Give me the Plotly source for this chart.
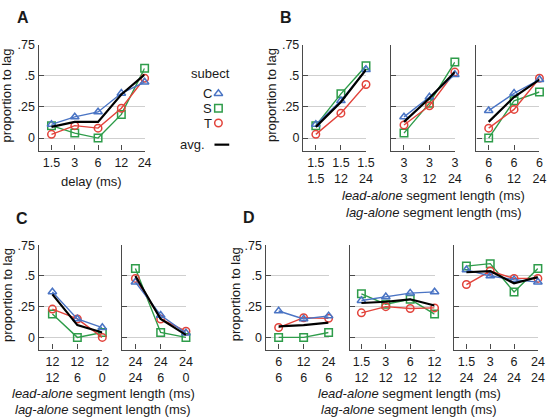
import plotly.graph_objects as go

# ---------------- data ----------------
A_ticks = ["1.5", "3", "6", "12", "24"]
A_C = [0.11, 0.17, 0.21, 0.36, 0.45]
A_S = [0.10, 0.04, 0.00, 0.19, 0.56]
A_T = [0.03, 0.10, 0.08, 0.24, 0.48]
A_avg = [0.09, 0.13, 0.13, 0.35, 0.51]

B1_lead = ["1.5", "1.5", "1.5"]
B1_lag = ["1.5", "12", "24"]
B1_C = [0.11, 0.30, 0.55]
B1_S = [0.10, 0.355, 0.58]
B1_T = [0.03, 0.20, 0.43]
B1_avg = [0.09, 0.29, 0.55]

B2_lead = ["3", "3", "3"]
B2_lag = ["3", "12", "24"]
B2_C = [0.17, 0.33, 0.51]
B2_S = [0.04, 0.28, 0.61]
B2_T = [0.105, 0.26, 0.53]
B2_avg = [0.13, 0.32, 0.53]

B3_lead = ["6", "6", "6"]
B3_lag = ["6", "12", "24"]
B3_C = [0.22, 0.36, 0.47]
B3_S = [0.00, 0.30, 0.37]
B3_T = [0.08, 0.23, 0.48]
B3_avg = [0.13, 0.33, 0.47]

C1_lead = ["12", "12", "12"]
C1_lag = ["12", "6", "0"]
C1_C = [0.37, 0.15, 0.08]
C1_S = [0.19, 0.00, 0.04]
C1_T = [0.23, 0.15, 0.00]
C1_avg = [0.35, 0.10, 0.04]

C2_lead = ["24", "24", "24"]
C2_lag = ["24", "6", "0"]
C2_C = [0.45, 0.18, 0.035]
C2_S = [0.56, 0.04, 0.00]
C2_T = [0.48, 0.15, 0.05]
C2_avg = [0.50, 0.15, 0.02]

D1_lead = ["6", "12", "24"]
D1_lag = ["6", "6", "6"]
D1_C = [0.215, 0.15, 0.175]
D1_S = [0.00, 0.00, 0.04]
D1_T = [0.08, 0.16, 0.155]
D1_avg = [0.09, 0.10, 0.12]

D2_lead = ["1.5", "3", "6", "12"]
D2_lag = ["12", "12", "12", "12"]
D2_C = [0.30, 0.33, 0.36, 0.37]
D2_S = [0.355, 0.27, 0.31, 0.19]
D2_T = [0.20, 0.25, 0.235, 0.24]
D2_avg = [0.28, 0.29, 0.31, 0.26]

D3_lead = ["1.5", "3", "6", "24"]
D3_lag = ["24", "24", "24", "24"]
D3_C = [0.55, 0.50, 0.47, 0.45]
D3_S = [0.58, 0.60, 0.37, 0.56]
D3_T = [0.43, 0.54, 0.48, 0.48]
D3_avg = [0.53, 0.54, 0.44, 0.49]

y_tickvals = [0, 0.25, 0.5, 0.75]
y_ticktext = ["0", ".25", ".5", ".75"]

# ---------------- style ----------------
W, H = 558, 418
FONT = "Liberation Sans, Arial, Helvetica, sans-serif"
C_COL = "#4a74c4"
S_COL = "#2e9c4a"
T_COL = "#e2433b"
AXC = "#4a4a4a"
GRIDC = "#cfcfcf"


def fx(p):
    return p / W


def fy(p):
    return 1 - p / H


def two_line(lead, lag):
    return [f"{a}<br>{b}" for a, b in zip(lead, lag)]


TOP = (38.3, 146.0)
BOT = (242.3, 348.5)

# (ticktext, C, S, T, avg, x-domain px, range start, y-domain px, show y labels)
panels = [
    (A_ticks, A_C, A_S, A_T, A_avg, (39.3, 147.0), -0.55, TOP, True),
    (two_line(B1_lead, B1_lag), B1_C, B1_S, B1_T, B1_avg, (308.0, 372.0), -0.51, TOP, True),
    (two_line(B2_lead, B2_lag), B2_C, B2_S, B2_T, B2_avg, (397.7, 462.3), -0.5, TOP, False),
    (two_line(B3_lead, B3_lag), B3_C, B3_S, B3_T, B3_avg, (484.3, 548.3), -0.48, TOP, False),
    (two_line(C1_lead, C1_lag), C1_C, C1_S, C1_T, C1_avg, (39.3, 104.0), -0.55, BOT, True),
    (two_line(C2_lead, C2_lag), C2_C, C2_S, C2_T, C2_avg, (124.0, 189.0), -0.53, BOT, False),
    (two_line(D1_lead, D1_lag), D1_C, D1_S, D1_T, D1_avg, (270.0, 334.0), -0.52, BOT, True),
    (two_line(D2_lead, D2_lag), D2_C, D2_S, D2_T, D2_avg, (355.7, 441.7), -0.47, BOT, False),
    (two_line(D3_lead, D3_lag), D3_C, D3_S, D3_T, D3_avg, (461.7, 546.7), -0.51, BOT, False),
]

layout = dict(
    width=W, height=H,
    margin=dict(l=0, r=0, t=0, b=0),
    paper_bgcolor="white", plot_bgcolor="rgba(0,0,0,0)",
    showlegend=False,
    font=dict(family=FONT, size=12, color="#1a1a1a"),
)
traces = []

for i, (ticktext, cv, sv, tv, av, xd, r0, yd, showy) in enumerate(panels, start=1):
    n = len(ticktext)
    xs = list(range(n))
    xa = "x" if i == 1 else f"x{i}"
    ya = "y" if i == 1 else f"y{i}"
    for vals, col, sym in ((sv, S_COL, "square-open"), (tv, T_COL, "circle-open"),
                           (cv, C_COL, "triangle-up-open")):
        traces.append(go.Scatter(
            x=xs, y=vals, mode="lines+markers", xaxis=xa, yaxis=ya,
            line=dict(color=col, width=1.4),
            marker=dict(symbol=sym, size=7.5, color=col, line=dict(color=col, width=1.5)),
            cliponaxis=False, hoverinfo="skip",
        ))
    traces.append(go.Scatter(
        x=xs, y=av, mode="lines", xaxis=xa, yaxis=ya,
        line=dict(color="black", width=2.2), cliponaxis=False, hoverinfo="skip"))

    layout[f"xaxis{'' if i == 1 else i}"] = dict(
        domain=[fx(xd[0]), fx(xd[1])], range=[r0, n - 1],
        anchor=ya, tickmode="array", tickvals=xs, ticktext=ticktext,
        ticks="inside", ticklen=5, tickwidth=1.3, tickcolor=AXC,
        showline=True, linecolor=AXC, linewidth=1.4,
        showgrid=False, zeroline=False, fixedrange=True,
        tickfont=dict(size=12.5, color="#1a1a1a"),
    )
    layout[f"yaxis{'' if i == 1 else i}"] = dict(
        domain=[fy(yd[1]), fy(yd[0])], range=[-0.1, 0.75],
        anchor=xa, tickmode="array", tickvals=y_tickvals,
        ticktext=y_ticktext if showy else [""] * 4,
        ticks="inside", ticklen=5, tickwidth=1.3, tickcolor=AXC,
        showline=True, linecolor=AXC, linewidth=1.4,
        showgrid=True, gridcolor=GRIDC, gridwidth=1.3,
        zeroline=False, fixedrange=True,
        tickfont=dict(size=12.5, color="#1a1a1a"),
    )

# legend overlay axis (pixel coordinates)
layout["xaxis10"] = dict(domain=[0, 1], range=[0, W], visible=False, anchor="y10", fixedrange=True)
layout["yaxis10"] = dict(domain=[0, 1], range=[H, 0], visible=False, anchor="x10", fixedrange=True)

legend_items = [("C", C_COL, "triangle-up-open", 88), ("S", S_COL, "square-open", 103),
                ("T", T_COL, "circle-open", 118)]
for name, col, sym, yy in legend_items:
    traces.append(go.Scatter(x=[222], y=[yy], mode="markers", xaxis="x10", yaxis="y10",
                             marker=dict(symbol=sym, size=7.5, color=col, line=dict(color=col, width=1.5)),
                             hoverinfo="skip"))
traces.append(go.Scatter(x=[218, 233], y=[140, 140], mode="lines", xaxis="x10", yaxis="y10",
                         line=dict(color="black", width=2.2), hoverinfo="skip"))

fig = go.Figure(data=traces, layout=layout)

ann = []


def text(x, y, s, size=13, xanchor="center", angle=0, bold=False, yanchor="middle"):
    ann.append(dict(x=fx(x), y=fy(y), xref="paper", yref="paper", text=f"<b>{s}</b>" if bold else s,
                    showarrow=False, xanchor=xanchor, yanchor=yanchor, textangle=angle,
                    borderpad=0,
                    font=dict(family=FONT, size=size, color="#1a1a1a")))


# panel letters
text(23, 11, "A", size=16, bold=True)
text(291, 11, "B", size=16, bold=True)
text(22, 215, "C", size=16, bold=True)
text(253, 214, "D", size=16, bold=True)

# y titles
for x, y in ((7, 90), (276, 90), (7, 293), (239, 292)):
    text(x, y, "proportion to lag", angle=-90)

# x titles
text(93, 177, "delay (ms)")
text(441, 192, "<i>lead-alone</i> segment length (ms)")
text(441, 209, "<i>lag-alone</i> segment length (ms)")
for cx in (105, 416):
    text(cx, 393.5, "<i>lead-alone</i> segment length (ms)")
    text(cx, 417.6, "<i>lag-alone</i> segment length (ms)", yanchor="bottom")

# legend text
text(214, 68, "subect")
for name, col, sym, yy in legend_items:
    text(216, yy, name, xanchor="right")
text(209, 140, "avg.", xanchor="right")

fig.update_layout(annotations=ann)
fig.write_html("out.html", config={"displayModeBar": False},
               post_script="document.body.style.margin='0';document.body.style.overflow='hidden';")
